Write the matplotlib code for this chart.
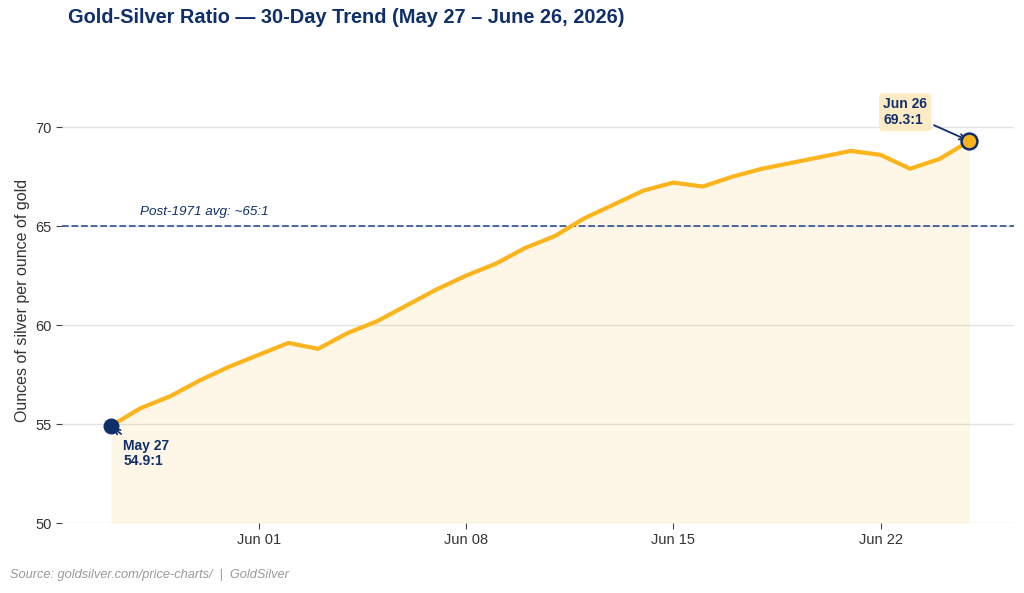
#!/usr/bin/env python3
"""
Gold-Silver ratio, 30-day trend chart
"""

import pandas as pd
import matplotlib.pyplot as plt
import matplotlib.dates as mdates

plt.rcParams['font.family'] = ['Liberation Sans', 'DejaVu Sans']

# Data
start_date = '2026-05-27'
ratio = [54.9, 55.8, 56.4, 57.2, 57.9, 58.5, 59.1, 58.8, 59.6, 60.2,
         61.0, 61.8, 62.5, 63.1, 63.9, 64.5, 65.4, 66.1, 66.8, 67.2,
         67.0, 67.5, 67.9, 68.2, 68.5, 68.8, 68.6, 67.9, 68.4, 69.3]
avg_ratio = 65
avg_label = 'Post-1971 avg: ~65:1'
start_label = 'May 27\n54.9:1'
end_label = 'Jun 26\n69.3:1'

dates = pd.date_range(start_date, periods=len(ratio), freq='D')

navy = '#0f2f6b'
gold = '#fbb41c'

fig = plt.figure(figsize=(10.24, 5.93), dpi=100)
ax = fig.add_axes([0.0605, 0.118, 0.9295, 0.751])

ax.fill_between(dates, ratio, 50, color=gold, alpha=0.1, linewidth=0)
ax.plot(dates, ratio, color=gold, linewidth=3, zorder=3)

# reference line
ax.axhline(avg_ratio, color='#3d5c99', linestyle='--', linewidth=1.3, zorder=2)
ax.text(dates[1], avg_ratio + 0.4, avg_label, fontsize=9.7, style='italic',
        color=navy, va='bottom', ha='left')

# end points
ax.scatter([dates[0]], [ratio[0]], s=110, color=navy, zorder=5)
ax.scatter([dates[-1]], [ratio[-1]], s=130, color=gold, edgecolor=navy,
           linewidth=1.8, zorder=5)

ax.annotate(start_label, xy=(dates[0], ratio[0]), xytext=(9, -9),
            textcoords='offset points', fontsize=10, fontweight='bold',
            color=navy, va='top', ha='left', linespacing=1.15,
            arrowprops=dict(arrowstyle='->', color=navy, lw=1.2))
ax.annotate(end_label, xy=(dates[-1], ratio[-1]), xytext=(-62, 10),
            textcoords='offset points', fontsize=10, fontweight='bold',
            color=navy, va='bottom', ha='left', linespacing=1.15,
            bbox=dict(boxstyle='round,pad=0.3', fc='#fde9bf', ec='none', alpha=0.9),
            arrowprops=dict(arrowstyle='->', color=navy, lw=1.3))

ax.set_ylim(50, 72.5)
ax.set_xlim(dates[0] - pd.Timedelta(days=1.65), dates[0] + pd.Timedelta(days=30.5))
ax.set_yticks([50, 55, 60, 65, 70])
ax.xaxis.set_major_locator(mdates.WeekdayLocator(byweekday=mdates.MO))
ax.xaxis.set_major_formatter(mdates.DateFormatter('%b %d'))

for side in ['top', 'right', 'left', 'bottom']:
    ax.spines[side].set_visible(False)
ax.grid(axis='y', color='#e3e3e3', linewidth=1)
ax.set_axisbelow(True)
ax.tick_params(axis='both', colors='#444444', labelsize=10.5, length=4)
ax.tick_params(axis='both', labelcolor='#333333')

ax.set_ylabel('Ounces of silver per ounce of gold', fontsize=11.5, color='#333333')

fig.text(0.066, 0.97, 'Gold-Silver Ratio \u2014 30-Day Trend (May 27 \u2013 June 26, 2026)',
         fontsize=14.4, fontweight='bold', color=navy, va='center', ha='left')
fig.text(0.01, 0.03, 'Source: goldsilver.com/price-charts/  |  GoldSilver',
         fontsize=9.2, style='italic', color='#999999', va='center', ha='left')

plt.savefig('out.png', dpi=100)
